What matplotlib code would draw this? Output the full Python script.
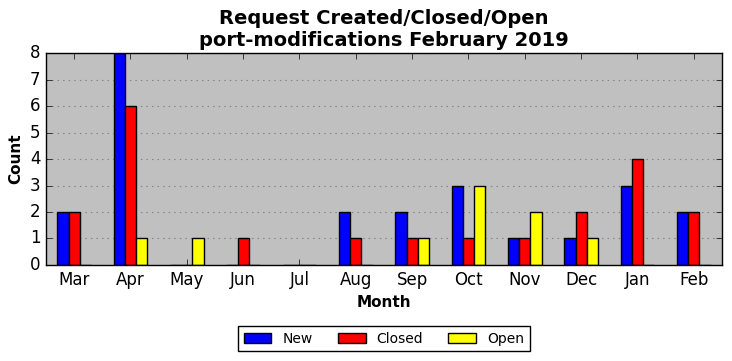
import matplotlib
matplotlib.use('Agg')
import matplotlib.pyplot as plt
import numpy as np

plt.style.use('classic')

meses = ["Mar", "Apr", "May", "Jun", "Jul", "Aug", "Sep", "Oct", "Nov", "Dec", "Jan", "Feb"]
novos = [2, 8, 0, 0, 0, 2, 2, 3, 1, 1, 3, 2]
fechados = [2, 6, 0, 1, 0, 1, 1, 1, 1, 2, 4, 2]
abertos = [0, 1, 1, 0, 0, 0, 1, 3, 2, 1, 0, 0]

fig = plt.figure(figsize=(7.32, 3.61), dpi=100)
fig.patch.set_facecolor('white')
ax = fig.add_axes([0.0628, 0.266, 0.9235, 0.587])
ax.set_facecolor('#c0c0c0')

x = np.arange(len(meses))
w = 0.2
ax.bar(x - w, novos, w, color='blue', edgecolor='black', label='New', align='center')
ax.bar(x, fechados, w, color='red', edgecolor='black', label='Closed', align='center')
ax.bar(x + w, abertos, w, color='yellow', edgecolor='black', label='Open', align='center')

ax.set_xticks(x)
ax.set_xticklabels(meses, fontsize=12)
ax.set_xlim(-0.5, 11.5)
ax.set_ylim(0, 8)
ax.set_yticks(range(0, 9))
ax.tick_params(axis='y', labelsize=12)
ax.yaxis.grid(True, color='gray', linestyle=':', linewidth=0.8)
ax.set_axisbelow(True)

ax.set_title("Request Created/Closed/Open\nport-modifications February 2019", fontsize=14, fontweight='bold')
ax.set_xlabel("Month", fontsize=11, fontweight='bold')
ax.set_ylabel("Count", fontsize=11, fontweight='bold')
ax.legend(loc='upper center', bbox_to_anchor=(0.5, -0.255), ncol=3, fontsize=10,
          columnspacing=1.8)

plt.savefig("out.png", dpi=100)
